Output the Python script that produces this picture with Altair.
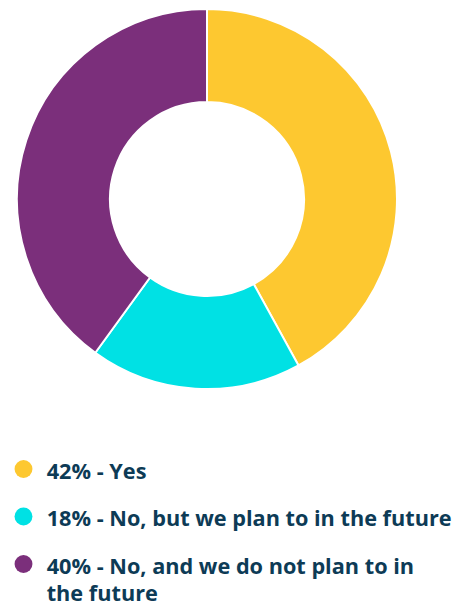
import altair as alt
import pandas as pd

labels = [
    "42% - Yes",
    "18% - No, but we plan to in the future",
    "40% - No, and we do not plan to in\nthe future",
]
values = [42, 18, 40]
colors = ["#fdc830", "#00e1e4", "#7b2f7b"]
order = [0, 1, 2]

df = pd.DataFrame({"label": labels, "value": values, "order": order})

color = alt.Color("label:N", scale=alt.Scale(domain=labels, range=colors), legend=None)

arc = alt.Chart(df).mark_arc(
    innerRadius=97, outerRadius=190, stroke="white", strokeWidth=2
).encode(
    theta=alt.Theta("value:Q", stack=True),
    color=color,
    order=alt.Order("order:Q"),
    x=alt.value(199),
    y=alt.value(191),
)

ypos = alt.Y("label:N", scale=alt.Scale(type="point", domain=labels, range=[461, 556], padding=0), axis=None)

dots = alt.Chart(df).mark_circle(size=320, opacity=1).encode(
    x=alt.value(15.5),
    y=ypos,
    color=color,
)

texts = alt.Chart(df).mark_text(
    align="left", baseline="alphabetic", dy=9.5, font="Open Sans", fontSize=21.7, fontWeight="bold",
    color="#0d3b56", lineBreak="\n", lineHeight=27
).encode(
    x=alt.value(38.7),
    y=ypos,
    text="label:N",
)

chart = alt.layer(arc, dots, texts).properties(
    width=446, height=598, padding=0, autosize=alt.AutoSizeParams(type="none")
).configure_view(stroke=None)

chart.save("out.html", embed_options={"renderer": "svg", "actions": False})
